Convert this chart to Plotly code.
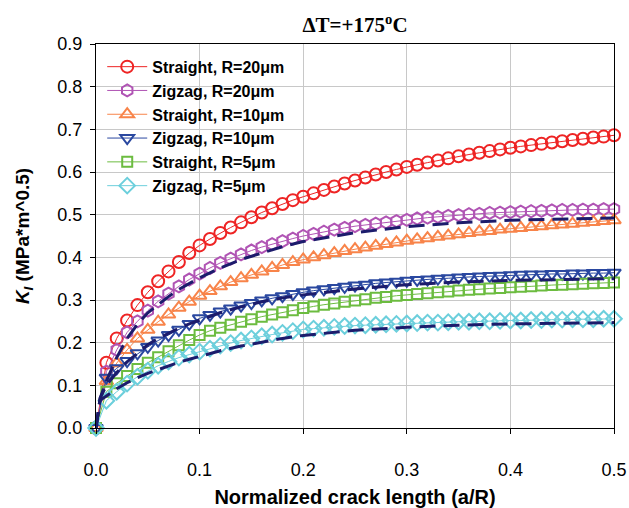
import plotly.graph_objects as go

x_markers = [round(i * 0.01, 2) for i in range(51)]

straight_r20 = [0, .153, .21, .252, .288, .318, .344, .367, .389, .41, .428,
                .443, .457, .47, .482, .494, .505, .515, .525, .534, .542,
                .55, .558, .566, .573, .58, .587, .594, .6, .606, .612,
                .617, .622, .627, .632, .637, .641, .645, .649, .653, .657,
                .66, .663, .666, .669, .672, .675, .678, .681, .683, .686]
zigzag_r20 = [0, .132, .183, .224, .25, .275, .297, .315, .332, .348, .362,
              .375, .387, .397, .407, .416, .424, .431, .438, .444, .45,
              .455, .46, .465, .469, .473, .476, .479, .482, .485, .488,
              .491, .493, .495, .497, .499, .501, .502, .504, .505, .506,
              .507, .508, .509, .51, .511, .511, .512, .512, .513, .513]
straight_r10 = [0, .11, .152, .183, .21, .23, .249, .266, .282, .296, .31,
                .321, .332, .342, .351, .359, .367, .375, .382, .389, .395,
                .4, .405, .41, .415, .419, .423, .427, .431, .435, .439,
                .442, .445, .448, .451, .454, .457, .46, .462, .465, .467,
                .469, .471, .473, .475, .477, .479, .481, .483, .485, .487]
zigzag_r10 = [0, .118, .14, .157, .175, .19, .205, .218, .23, .244, .257,
              .265, .273, .28, .287, .293, .299, .304, .309, .314, .318,
              .322, .325, .328, .331, .334, .336, .339, .341, .343, .345,
              .347, .348, .35, .351, .353, .354, .355, .356, .357, .358,
              .359, .36, .36, .361, .361, .362, .362, .363, .363, .364]
straight_r5 = [0, .085, .105, .122, .138, .153, .166, .18, .194, .206, .218,
               .228, .235, .242, .249, .255, .261, .266, .271, .276, .281,
               .285, .289, .292, .296, .299, .302, .305, .307, .31, .312,
               .314, .316, .318, .32, .322, .324, .325, .327, .328, .33,
               .331, .332, .334, .335, .336, .337, .338, .339, .34, .341]
zigzag_r5 = [0, .064, .085, .104, .12, .134, .146, .156, .165, .172, .179,
             .186, .193, .199, .205, .21, .215, .219, .223, .227, .231,
             .233, .235, .237, .239, .24, .241, .242, .243, .244, .245,
             .246, .247, .247, .248, .249, .249, .25, .25, .251, .252,
             .252, .253, .253, .254, .254, .255, .255, .255, .256, .256]

x_dashed = [0, .004, .01, .02, .03, .04, .05, .06, .07, .08, .09, .1,
            .12, .14, .16, .18, .2, .25, .3, .35, .4, .45, .5]
dashed_1 = [0, .07, .11, .165, .21, .243, .27, .29, .308, .325, .339, .352,
            .375, .395, .41, .425, .437, .458, .472, .481, .487, .49, .492]
dashed_2 = [0, .07, .1, .13, .155, .175, .195, .21, .222, .234, .244, .253,
            .27, .284, .296, .305, .312, .326, .336, .342, .346, .348, .35]
dashed_3 = [0, .065, .075, .092, .106, .118, .128, .137, .146, .154, .161, .168,
            .181, .192, .201, .21, .217, .229, .236, .241, .244, .246, .247]

series = [
    ("Straight, R=20μm", straight_r20, "#ee2424", "circle-open", 12),
    ("Zigzag, R=20μm", zigzag_r20, "#b054b4", "hexagon-open", 12),
    ("Straight, R=10μm", straight_r10, "#f8844a", "triangle-up-open", 12),
    ("Zigzag, R=10μm", zigzag_r10, "#2a48a0", "triangle-down-open", 12),
    ("Straight, R=5μm", straight_r5, "#6cbc40", "square-open", 10),
    ("Zigzag, R=5μm", zigzag_r5, "#6ccfdc", "diamond-open", 12),
]

fig = go.Figure()
for name, ys, color, sym, size in series:
    fig.add_trace(go.Scatter(
        x=x_markers, y=ys, name=name, mode="lines+markers",
        line=dict(color=color, width=1),
        marker=dict(symbol=sym, size=size, color=color, line=dict(color=color, width=2)),
        cliponaxis=False,
    ))

for ys in (dashed_1, dashed_2, dashed_3):
    fig.add_trace(go.Scatter(
        x=x_dashed, y=ys, mode="lines", showlegend=False,
        line=dict(color="#1c1c6c", width=3, dash="16px,8px"),
        cliponaxis=False,
    ))

axis_common = dict(
    showgrid=True, gridcolor="#c8c8c8", gridwidth=1,
    showline=True, linecolor="black", linewidth=1, mirror=True,
    ticks="outside", ticklen=5, tickcolor="black",
    tickfont=dict(family="Liberation Sans, Arial", size=18, color="black"),
    zeroline=False, automargin=False,
)

fig.update_layout(
    width=629, height=508,
    margin=dict(l=96, r=15, t=44, b=80),
    paper_bgcolor="white", plot_bgcolor="white",
    title=dict(
        text="<b>ΔT=+175<sup>o</sup>C</b>",
        font=dict(family="Liberation Serif, Times New Roman", size=21, color="black"),
        x=0.5, xref="paper", xanchor="center",
        y=1 - 25 / 508, yref="container", yanchor="middle",
        automargin=False,
    ),
    xaxis=dict(
        range=[0, 0.5], dtick=0.1, tickformat=".1f",
        ticklabelstandoff=20,
        title=dict(text="<b>Normalized crack length (a/R)</b>",
                   font=dict(family="Liberation Sans, Arial", size=20, color="black"),
                   standoff=12),
        **axis_common,
    ),
    yaxis=dict(
        range=[0, 0.9], dtick=0.1, tickformat=".1f",
        ticklabelstandoff=4,
        title=dict(text="<b><i>K<sub>I</sub></i> (MPa*m^0.5)</b>",
                   font=dict(family="Liberation Sans, Arial", size=19, color="black"),
                   standoff=22),
        **axis_common,
    ),
    legend=dict(
        x=0.012, y=0.985, xanchor="left", yanchor="top",
        bgcolor="rgba(255,255,255,0)",
        font=dict(family="Liberation Sans, Arial", size=16, color="black", weight="bold"),
        itemwidth=40,
    ),
    showlegend=True,
)

fig.write_html("out.html")
